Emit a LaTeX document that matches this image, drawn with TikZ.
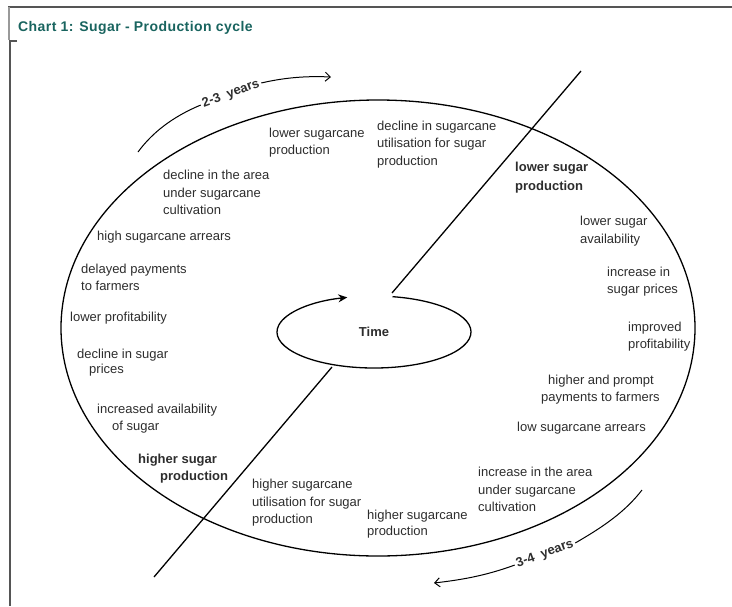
\documentclass[tikz,border=0pt]{standalone}
\usepackage{fontspec}
\setmainfont{Liberation Sans}
\usetikzlibrary{arrows.meta,calc}
\definecolor{txt}{RGB}{45,45,45}
\definecolor{ttl}{RGB}{25,100,95}
\definecolor{frm}{RGB}{85,85,85}
\begin{document}
\begin{tikzpicture}[x=1pt,y=-1pt,
  lbl/.style={font=\fontsize{13}{17.5}\selectfont, text=txt, align=left, inner sep=0pt, anchor=west},
  blbl/.style={font=\bfseries\fontsize{13}{19}\selectfont, text=txt, align=left, inner sep=0pt, anchor=west},
  yrs/.style={font=\bfseries\fontsize{13}{15}\selectfont, text=txt, inner xsep=2pt, inner ysep=0pt},
  curve/.style={line width=1.3pt, black},
  thin/.style={line width=1pt, black},
  barb/.style={-{Straight Barb[length=5pt,width=9pt,line width=1pt]}},
  frameline/.style={line width=1.2pt, frm}]
\useasboundingbox (0,0) rectangle (732,606);
% frame
\draw[frameline] (8,7) -- (732,7);
\draw[frameline, frm!60] (9,7) -- (9,40);
\draw[frameline] (17,41) -- (10,41) -- (10,606);
\node[anchor=base west, inner sep=0pt, text=ttl, font=\bfseries\fontsize{14}{16}\selectfont\addfontfeature{LetterSpace=3}] (title) at (18,31) {Chart 1: Sugar - Production cycle};
% big cycle
\coordinate (bc) at (378,328);
\draw[curve] (bc) ellipse [x radius=317pt, y radius=228pt];
% time ellipse
\coordinate (tc) at (374,332);
\node[font=\bfseries\fontsize{13}{15}\selectfont, text=txt, inner sep=0pt] (time) at (tc) {Time};
\draw[curve, -{Stealth[length=9pt,width=8pt]}] ($(tc)+(79:97pt and 36pt)$) arc[start angle=79, end angle=-254, x radius=97pt, y radius=36pt];
% diagonal time line
\coordinate (d1) at (581,71);
\coordinate (d2) at (392,293);
\coordinate (d3) at (332,367);
\coordinate (d4) at (154,577);
\draw[curve] (d1) -- (d2);
\draw[curve] (d3) -- (d4);
% 2-3 years arrow
\coordinate (a1) at (138,152);
\coordinate (a4) at (331,77);
\node[yrs, rotate=20] (y23) at (231,94) {2-3\ \ years};
\draw[thin] (a1) .. controls (152,133) and (172,117) .. (y23.west);
\draw[thin, barb] (y23.east) .. controls (287,77) and (309,76) .. (a4);
% 3-4 years arrow
\coordinate (b1) at (642,490);
\coordinate (b4) at (434,583);
\node[yrs, rotate=20] (y34) at (545,554) {3-4\ \ years};
\draw[thin] (b1) .. controls (625,512) and (603,527) .. (y34.east);
\draw[thin, barb] (y34.west) .. controls (485,576) and (460,580) .. (b4);
% labels
\node[lbl] (l1) at (269,142.5) {lower sugarcane\\production};
\node[lbl] (l2) at (377,144.5) {decline in sugarcane\\utilisation for sugar\\production};
\node[blbl] (l3) at (515,178) {lower sugar\\production};
\node[lbl] (l4) at (580,231) {lower sugar\\availability};
\node[lbl] (l5) at (607,281.5) {increase in\\sugar prices};
\node[lbl] (l6) at (628,336.5) {improved\\profitability};
\node[lbl] (l7) at (541,389.5) {\hspace*{7pt}higher and prompt\\payments to farmers};
\node[lbl] (l8) at (517,428.5) {low sugarcane arrears};
\node[lbl] (l9) at (478,489.5) {increase in the area\\under sugarcane\\cultivation};
\node[lbl] (l10) at (367,524) {higher sugarcane\\[-1.5pt]production};
\node[lbl] (l11) at (252,503) {higher sugarcane\\utilisation for sugar\\production};
\node[blbl] (l12) at (138,468.5) {higher sugar\\[-2pt]\hspace*{22pt}production};
\node[lbl] (l13) at (97,418.5) {increased availability\\\hspace*{15pt}of sugar};
\node[lbl] (l14) at (77,362.5) {decline in sugar\\[-2.5pt]\hspace*{12pt}prices};
\node[lbl] (l15) at (70,318) {lower profitability};
\node[lbl] (l16) at (81,277.5) {delayed payments\\to farmers};
\node[lbl] (l17) at (97,237) {high sugarcane arrears};
\node[lbl] (l18) at (163,192.5) {decline in the area\\under sugarcane\\cultivation};
\end{tikzpicture}
\end{document}
